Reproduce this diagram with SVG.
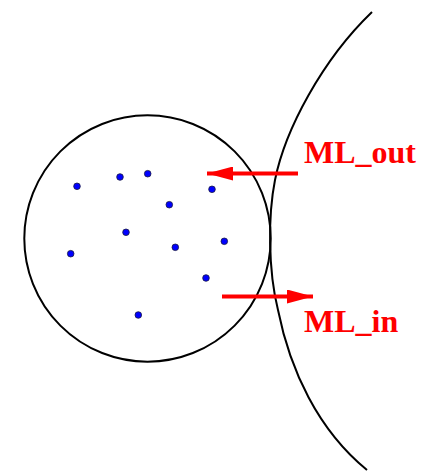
<svg xmlns="http://www.w3.org/2000/svg" width="426" height="472" viewBox="0 0 426 472">
<style>
.line{fill:none;stroke:#000;stroke-width:2}
.dot{fill:#0000ff;stroke:#1a1a40;stroke-width:0.8}
.arrow{stroke:#ff0000;stroke-width:4;fill:none}
.lbl{font-family:"Liberation Serif",serif;font-weight:bold;font-size:32px;fill:#ff0000}
</style>
<defs>
<marker id="ah" viewBox="0 0 26 14" refX="26" refY="7" markerWidth="26" markerHeight="14" markerUnits="userSpaceOnUse" orient="auto">
<path d="M0,0 L26,7 L0,14 Z" fill="#ff0000"/>
</marker>
</defs>
<g id="boundary">
<path class="line" d="M372,12 C322,60 285,130 275,180 C268,215 268,270 278,310 C290,370 318,430 367,470"/>
</g>
<g id="circle">
<circle class="line" cx="147.5" cy="238.5" r="123.2"/>
</g>
<g id="points">
<circle class="dot" cx="77" cy="186.3" r="3.3"/>
<circle class="dot" cx="120" cy="177" r="3.3"/>
<circle class="dot" cx="147.7" cy="173.7" r="3.3"/>
<circle class="dot" cx="212" cy="189.3" r="3.3"/>
<circle class="dot" cx="169.3" cy="204.7" r="3.3"/>
<circle class="dot" cx="126" cy="232.3" r="3.3"/>
<circle class="dot" cx="70.7" cy="253.7" r="3.3"/>
<circle class="dot" cx="175.3" cy="247.3" r="3.3"/>
<circle class="dot" cx="224.3" cy="241.3" r="3.3"/>
<circle class="dot" cx="206" cy="278" r="3.3"/>
<circle class="dot" cx="138.3" cy="315" r="3.3"/>
</g>
<g id="connectors">
<line class="arrow" x1="298" y1="173.5" x2="207" y2="173.5" marker-end="url(#ah)"/>
<line class="arrow" x1="222" y1="296.5" x2="313" y2="296.5" marker-end="url(#ah)"/>
</g>
<g id="label-out">
<text class="lbl" x="304" y="163">ML_out</text>
</g>
<g id="label-in">
<text class="lbl" x="304" y="331.5">ML_in</text>
</g>
</svg>
